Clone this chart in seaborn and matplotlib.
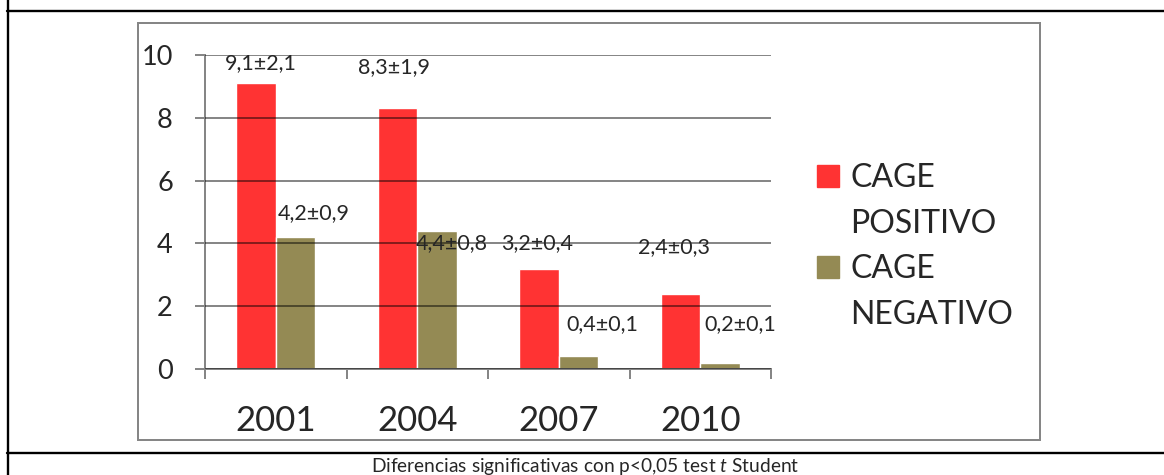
import pandas as pd
import seaborn as sns
from matplotlib import pyplot as plt
from matplotlib.patches import Rectangle
from matplotlib.lines import Line2D

# Data
years = ['2001', '2004', '2007', '2010']
groups = ['CAGE POSITIVO', 'CAGE NEGATIVO']
cage_pos = [9.1, 8.3, 3.2, 2.4]
cage_pos_sd = [2.1, 1.9, 0.4, 0.3]
cage_neg = [4.2, 4.4, 0.4, 0.2]
cage_neg_sd = [0.9, 0.8, 0.1, 0.1]

colors = ['#FF3333', '#948A54']
grey = '#868686'

# label offsets from bar top (pixels), as placed in the original
label_offsets = [[(5, 14), (-3, 35), (-2, 19), (-6, 41)],
                 [(18, 18), (15, -18), (24, 26), (20, 33)]]

df = pd.DataFrame({
    'year': years * 2,
    'group': [groups[0]] * 4 + [groups[1]] * 4,
    'value': cage_pos + cage_neg,
})

sns.set_style('white')
plt.rcParams['font.family'] = ['Lato', 'DejaVu Sans']
plt.rcParams['mathtext.fontset'] = 'custom'
plt.rcParams['mathtext.rm'] = 'Lato'
plt.rcParams['mathtext.it'] = 'Lato:italic'

W, H = 1164, 475
fig = plt.figure(figsize=(W / 100, H / 100), dpi=100)
ax = fig.add_axes([205 / W, (H - 369) / H, 566 / W, 314 / H])

sns.barplot(data=df, x='year', y='value', hue='group', hue_order=groups,
            palette=colors, saturation=1, width=0.56, gap=0, legend=False, ax=ax)

ax.set_ylim(0, 10)
ax.set_xlim(-0.5, 3.5)
ax.set_yticks(range(0, 11, 2))
ax.set_xlabel('')
ax.set_ylabel('')

# gridlines drawn over the bars like in the Excel chart
ax.set_axisbelow(False)
ax.yaxis.grid(True, color='black', alpha=0.47, lw=1.44)
for sp in ['top', 'right']:
    ax.spines[sp].set_visible(False)
for sp in ['left', 'bottom']:
    ax.spines[sp].set_color(grey)
    ax.spines[sp].set_linewidth(1.44)

ax.tick_params(axis='y', length=7.2, width=1.44, color=grey, pad=16, labelsize=19.5, direction='out', left=True)
ax.tick_params(axis='x', which='major', length=0, pad=26, labelsize=25, bottom=True)
ax.set_xticks([i - 0.5 for i in range(len(years) + 1)], minor=True)
ax.tick_params(axis='x', which='minor', length=7.2, width=1.44, color=grey, direction='out', bottom=True)

# value labels
sds = [cage_pos_sd, cage_neg_sd]
vals = [cage_pos, cage_neg]
for k, cont in enumerate(ax.containers):
    for j, bar in enumerate(cont):
        txt = f'{vals[k][j]:.1f}±{sds[k][j]:.1f}'.replace('.', ',')
        ax.annotate(txt, (bar.get_x() + bar.get_width() / 2, bar.get_height()),
                    xytext=label_offsets[k][j], textcoords='offset pixels',
                    ha='center', va='baseline', fontsize=15.5, annotation_clip=False)

# legend, Excel style (wrapped labels, square swatches)
for k, g in enumerate(groups):
    base = 187 + k * 91
    fig.add_artist(Rectangle((817 / W, (H - base) / H), 22 / W, 22 / H,
                             transform=fig.transFigure, color=colors[k]))
    for n, word in enumerate(g.split(' ')):
        fig.text(850 / W, (H - base - n * 46) / H, word, fontsize=23, va='baseline', ha='left')

# chart frame and table lines
fig.add_artist(Rectangle((138 / W, (H - 440) / H), 902 / W, 417 / H, transform=fig.transFigure,
                         fill=False, edgecolor=grey, lw=1.44))
fig.add_artist(Line2D([7.5 / W, 7.5 / W], [0, 1], color='black', lw=1.7))
fig.add_artist(Line2D([7 / W, 1], [(H - 11) / H] * 2, color='black', lw=1.7))
fig.add_artist(Line2D([7 / W, 1], [(H - 453) / H] * 2, color='black', lw=1.7))

fig.text(585 / W, (H - 472) / H, r'Diferencias significativas con p<0,05 test $\mathit{t}$ Student',
         fontsize=13.8, ha='center', va='baseline')

plt.savefig('out.png', dpi=100)
